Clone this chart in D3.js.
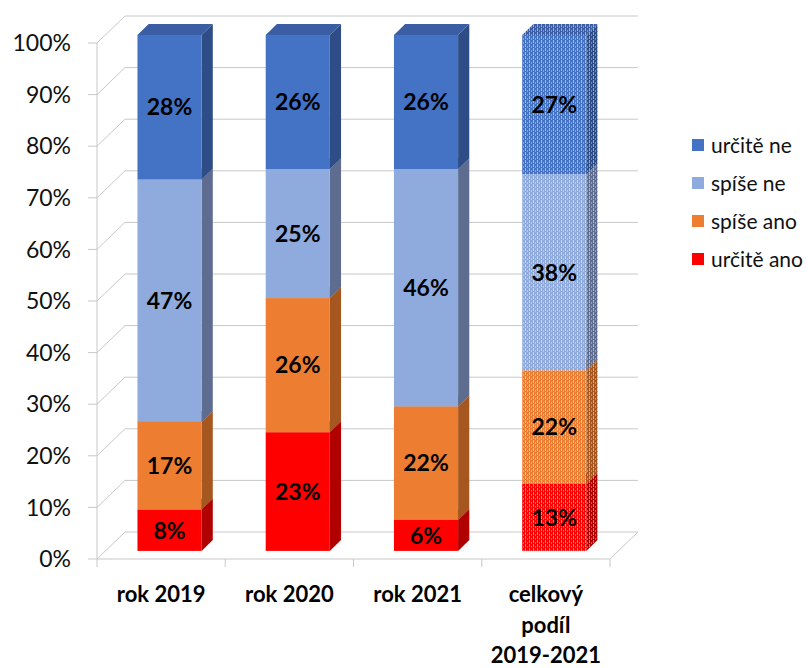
<!DOCTYPE html>
<html>
<head>
<meta charset="utf-8">
<script src="https://cdn.jsdelivr.net/npm/d3@7"></script>
<style>
  html, body { margin: 0; padding: 0; background: #fff; }
  svg { display: block; font-family: Lato, "Open Sans", sans-serif; }
</style>
</head>
<body>
<svg id="chart" width="808" height="668"></svg>
<script>
// Category labels (each entry is a list of lines)
const categories = [["rok 2019"], ["rok 2020"], ["rok 2021"], ["celkový", "podíl", "2019-2021"]];
// Series values in percent, stacked from the bottom
const seriesNames = ["určitě ano", "spíše ano", "spíše ne", "určitě ne"];
const urciteAno = [8, 23, 6, 13];
const spiseAno = [17, 26, 22, 22];
const spiseNe = [47, 25, 46, 38];
const urciteNe = [28, 26, 26, 27];
const tickValues = [0, 10, 20, 30, 40, 50, 60, 70, 80, 90, 100];
// Which category is drawn with a hatched fill
const hatchedCategory = 3;

const seriesValues = [urciteAno, spiseAno, spiseNe, urciteNe];
const colors = [
  { front: "#FF0000", side: "#B00000", top: "#D80000" },
  { front: "#ED7D31", side: "#A5571F", top: "#CF6B28" },
  { front: "#8FAADC", side: "#5E6D8F", top: "#7A93C2" },
  { front: "#4472C4", side: "#2E4C85", top: "#3A5DA3" }
];

const svg = d3.select("#chart");

// Plot geometry: front plane and the depth vector towards the back wall
const x0 = 97, x1 = 610, yBottom = 559, yTop = 43;
const depth = { dx: 28, dy: -27 };
const barOffset = 0.3;   // position of bar front face within depth
const barDepth = 0.4;    // thickness of bar within depth

const x = d3.scaleBand().domain(d3.range(categories.length)).range([x0, x1]).padding(0);
const y = d3.scaleLinear().domain([0, 100]).range([yBottom, yTop]);

const grid = "#C8C8C8";

// Hatch patterns for the aggregate bar
const defs = svg.append("defs");
colors.forEach((c, i) => {
  ["front", "side", "top"].forEach(face => {
    const p = defs.append("pattern")
      .attr("id", `hatch-${i}-${face}`)
      .attr("patternUnits", "userSpaceOnUse")
      .attr("width", 4).attr("height", 4);
    p.append("rect").attr("width", 4).attr("height", 4).attr("fill", c[face]);
    p.append("rect").attr("x", 1).attr("y", 0).attr("width", 1).attr("height", 3)
      .attr("fill", "#fff").attr("opacity", 0.5);
    p.append("rect").attr("x", 3).attr("y", 2).attr("width", 1).attr("height", 2)
      .attr("fill", "#fff").attr("opacity", 0.35);
  });
});

// Walls and gridlines
const gridG = svg.append("g").attr("fill", "none").attr("stroke", grid).attr("stroke-width", 1);
tickValues.forEach(t => {
  const yf = y(t), yb = y(t) + depth.dy;
  gridG.append("path").attr("d", `M${x0},${yf}L${x0 + depth.dx},${yb}L${x1 + depth.dx},${yb}`);
});
// Floor front edge and right edge
gridG.append("path").attr("d", `M${x0},${yBottom}L${x1},${yBottom}L${x1 + depth.dx},${yBottom + depth.dy}`);
// Value axis line
gridG.append("line").attr("x1", x0).attr("x2", x0).attr("y1", yTop).attr("y2", yBottom);
// Value axis ticks
tickValues.forEach(t => {
  gridG.append("line").attr("x1", x0 - 9).attr("x2", x0).attr("y1", y(t)).attr("y2", y(t));
});
// Category ticks
d3.range(categories.length + 1).forEach(i => {
  const xx = i < categories.length ? x(i) : x1;
  gridG.append("line").attr("x1", xx).attr("x2", xx).attr("y1", yBottom).attr("y2", yBottom + 8);
});

// Value axis labels
svg.append("g").selectAll("text").data(tickValues).join("text")
  .attr("x", 71).attr("y", d => y(d))
  .attr("dy", "0.36em")
  .attr("text-anchor", "end")
  .attr("font-size", 23)
  .attr("fill", "#111")
  .text(d => d + "%");

// Bars
const bw = x.bandwidth() / 2;
const ox = depth.dx * barOffset, oy = depth.dy * barOffset;
const bdx = depth.dx * barDepth, bdy = depth.dy * barDepth;
const barsG = svg.append("g");
const labelsG = svg.append("g");

categories.forEach((cat, ci) => {
  const left = x(ci) + x.bandwidth() / 4 + ox;
  const right = left + bw;
  let cum = 0;
  seriesValues.forEach((vals, si) => {
    const v = vals[ci];
    const yb = y(cum) + oy, yt = y(cum + v) + oy;
    const fill = face => ci === hatchedCategory ? `url(#hatch-${si}-${face})` : colors[si][face];
    const g = barsG.append("g");
    g.append("path").attr("fill", fill("side"))
      .attr("d", `M${right},${yb}L${right + bdx},${yb + bdy}L${right + bdx},${yt + bdy}L${right},${yt}Z`);
    g.append("path").attr("fill", fill("top"))
      .attr("d", `M${left},${yt}L${left + bdx},${yt + bdy}L${right + bdx},${yt + bdy}L${right},${yt}Z`);
    g.append("rect").attr("fill", fill("front"))
      .attr("x", left).attr("y", yt).attr("width", bw).attr("height", yb - yt);
    labelsG.append("text")
      .attr("x", (left + right) / 2)
      .attr("y", (yb + yt) / 2)
      .attr("dy", "0.36em")
      .attr("text-anchor", "middle")
      .attr("font-size", 23)
      .attr("font-weight", "bold")
      .attr("fill", "#000")
      .text(v + "%");
    cum += v;
  });
});

// Category labels
const catG = svg.append("g");
categories.forEach((lines, ci) => {
  const t = catG.append("text")
    .attr("text-anchor", "middle")
    .attr("font-size", 22)
    .attr("font-weight", "bold")
    .attr("fill", "#000");
  lines.forEach((line, li) => {
    t.append("tspan")
      .attr("x", x(ci) + x.bandwidth() / 2)
      .attr("y", 602 + li * 30.5)
      .text(line);
  });
});

// Legend (top entry is the top series)
const legendOrder = [3, 2, 1, 0];
const legend = svg.append("g");
legendOrder.forEach((si, k) => {
  const cy = 145 + k * 38;
  legend.append("rect").attr("x", 692).attr("y", cy - 6).attr("width", 12).attr("height", 12)
    .attr("fill", colors[si].front);
  legend.append("text").attr("x", 711).attr("y", cy).attr("dy", "0.36em")
    .attr("font-size", 21).attr("fill", "#111")
    .text(seriesNames[si]);
});
</script>
</body>
</html>
